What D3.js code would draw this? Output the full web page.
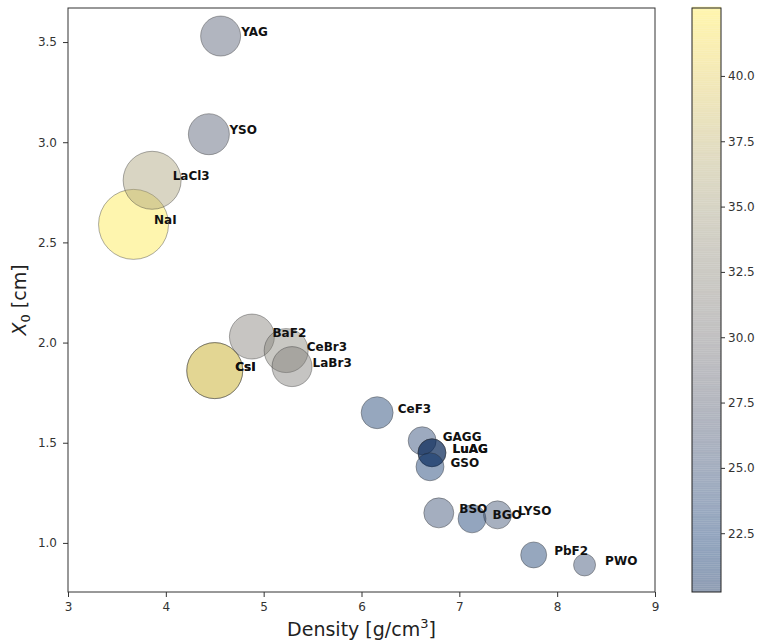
<!DOCTYPE html>
<head>
  <meta charset="utf-8">
  <style>
    body { margin: 0; background: #fff; }
    text { font-family: "DejaVu Sans", sans-serif; }
    .tick text { fill: #333; font-size: 12px; }
    .tick line { stroke: #333; }
    .domain { stroke: none; }
  </style>
  <title>X0 vs Density</title>
</head>
<body>
  <script src="https://cdnjs.cloudflare.com/ajax/libs/d3/7.8.5/d3.min.js"></script>
  <script>
    // crystals (some are plotted twice, as in the original)
    var names = ["NaI","LaCl3","YSO","YAG","CsI","CsI","BaF2","CeBr3","LaBr3","CeF3","GAGG","LuAG","LuAG","GSO","BSO","BGO","LYSO","PbF2","PWO"];
    var density = [3.67,3.86,4.44,4.56,4.50,4.50,4.88,5.23,5.29,6.16,6.62,6.72,6.72,6.70,6.79,7.13,7.39,7.76,8.28];
    var x0 = [2.59,2.81,3.04,3.53,1.86,1.86,2.03,1.96,1.88,1.65,1.51,1.45,1.45,1.38,1.15,1.12,1.14,0.94,0.89];
    var colorVal = [42.5,35.5,27.0,27.0,39.0,39.0,31.5,32.0,31.0,23.0,24.0,20.3,20.3,22.5,25.0,22.5,25.5,23.0,25.0];
    var markerArea = [1225,841,420,400,784,784,506,484,400,256,196,196,196,196,225,196,196,169,121];

    var xTicks = [3,4,5,6,7,8,9];
    var yTicks = [1.0,1.5,2.0,2.5,3.0,3.5];
    var cTicks = [22.5,25.0,27.5,30.0,32.5,35.0,37.5,40.0];

    var width = 761, height = 642;
    var padL = 68, padR = 655, padT = 8, padB = 592;
    var cbLeft = 692, cbRight = 721;
    var alpha = 0.44;

    var data = names.map(function(n, i) {
      return {name: n, d: density[i], x0: x0[i], c: colorVal[i], s: markerArea[i]};
    });

    var svg = d3.select("body").append("svg").attr("width", width).attr("height", height);

    var xScale = d3.scaleLinear().domain([3, 9]).range([padL, padR]);
    var yScale = d3.scaleLinear().domain([0.755, 3.67]).range([padB, padT]);
    var cScale = d3.scaleLinear().domain([20.25, 42.6]).range([padB, padT]);
    var rScale = d3.scaleSqrt().domain([0, 1225]).range([0, 35]);
    var cmap = d3.scaleSequential(d3.interpolateCividis).domain([20.25, 42.6]);

    // bubbles
    svg.append("g").selectAll("circle").data(data).enter().append("circle")
      .attr("cx", function(d) { return xScale(d.d); })
      .attr("cy", function(d) { return yScale(d.x0); })
      .attr("r", function(d) { return rScale(d.s); })
      .attr("fill", function(d) { return cmap(d.c); })
      .attr("fill-opacity", alpha)
      .attr("stroke", "#333")
      .attr("stroke-opacity", 0.4)
      .attr("stroke-width", 1);

    // labels
    svg.append("g").selectAll("text").data(data).enter().append("text")
      .attr("x", function(d) { return xScale(d.d + 0.21); })
      .attr("y", function(d) { return yScale(d.x0); })
      .attr("font-size", "12px").attr("font-weight", "bold").attr("fill", "#111")
      .text(function(d) { return d.name; });

    // axes
    var xAxis = d3.axisBottom(xScale).tickValues(xTicks).tickFormat(d3.format("d")).tickSizeOuter(0).tickSize(5).tickPadding(5);
    var yAxis = d3.axisLeft(yScale).tickValues(yTicks).tickFormat(d3.format(".1f")).tickSizeOuter(0).tickSize(5).tickPadding(6);
    svg.append("g").attr("transform", "translate(0," + padB + ")").call(xAxis);
    svg.append("g").attr("transform", "translate(" + padL + ",0)").call(yAxis);

    svg.append("rect").attr("x", padL).attr("y", padT).attr("width", padR - padL).attr("height", padB - padT)
      .attr("fill", "none").attr("stroke", "#333").attr("stroke-width", 1);

    // colorbar
    var steps = d3.range(20.25, 42.6, 0.07);
    svg.append("g").selectAll("rect").data(steps).enter().append("rect")
      .attr("x", cbLeft).attr("width", cbRight - cbLeft)
      .attr("y", function(d) { return cScale(d + 0.07); })
      .attr("height", function(d) { return cScale(d) - cScale(d + 0.07); })
      .attr("fill", function(d) { return cmap(d); })
      .attr("fill-opacity", alpha);
    svg.append("rect").attr("x", cbLeft).attr("y", padT).attr("width", cbRight - cbLeft).attr("height", padB - padT)
      .attr("fill", "none").attr("stroke", "#222").attr("stroke-width", 1);
    var cAxis = d3.axisRight(cScale).tickValues(cTicks).tickFormat(d3.format(".1f")).tickSize(4).tickSizeOuter(0);
    svg.append("g").attr("transform", "translate(" + cbRight + ",0)").call(cAxis)
      .selectAll(".tick text").attr("font-size", "10.5px");

    // axis titles
    var xl = svg.append("text").attr("x", (padL + padR) / 2).attr("y", 636)
      .attr("text-anchor", "middle").attr("font-size", "19px").attr("fill", "#222");
    xl.append("tspan").text("Density [g/cm");
    xl.append("tspan").attr("font-size", "13px").attr("dy", -8).text("3");
    xl.append("tspan").attr("dy", 8).text("]");

    var yl = svg.append("text").attr("transform", "translate(26," + ((padT + padB) / 2) + ") rotate(-90)")
      .attr("text-anchor", "middle").attr("font-size", "19px").attr("fill", "#222");
    yl.append("tspan").attr("font-style", "italic").text("X");
    yl.append("tspan").attr("font-size", "13px").attr("dy", 4).text("0");
    yl.append("tspan").attr("dy", -4).text(" [cm]");
  </script>
</body>
